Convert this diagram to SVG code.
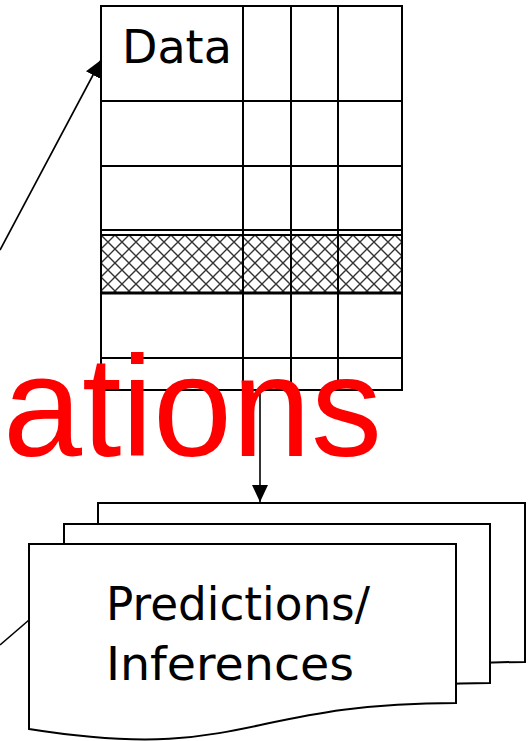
<svg xmlns="http://www.w3.org/2000/svg" width="529" height="741" viewBox="0 0 529 741">
  <style>
    .grid { stroke: #000; stroke-width: 2; fill: none; }
    .doc { fill: #fff; stroke: #000; stroke-width: 2; stroke-linejoin: miter; }
    .label { font-family: "Comic Sans MS", "DejaVu Sans", sans-serif; font-size: 46px; fill: #000; }
    .link { stroke: #000; stroke-width: 1.6; fill: none; }
    .big { font-family: "Liberation Sans", Arial, sans-serif; font-size: 142px; fill: #ff0000; }
  </style>
  <defs>
    <pattern id="crosshatch" x="101" y="235" width="14" height="14" patternUnits="userSpaceOnUse">
      <path d="M0,0 L14,14 M14,0 L0,14" stroke="#333" stroke-width="1.4" fill="none"/>
    </pattern>
    <marker id="arrow" markerUnits="userSpaceOnUse" markerWidth="18" markerHeight="16" refX="17" refY="8" orient="auto">
      <path d="M0,0 L17,8 L0,16 Z" fill="#000"/>
    </marker>
  </defs>

  <!-- data table -->
  <g id="data-table">
    <rect x="101" y="6" width="301" height="384" fill="#fff"/>
    <rect x="101" y="235" width="301" height="58" fill="url(#crosshatch)"/>
    <rect class="grid" x="101" y="6" width="301" height="384"/>
    <path class="grid" d="M101,101 H402 M101,166 H402 M101,230 H402 M101,235 H402 M101,358 H402 M243,6 V390 M291,6 V390 M338,6 V390"/>
    <path d="M101,293 H402" stroke="#000" stroke-width="3"/>
    <text class="label" x="122" y="63">Data</text>
  </g>

  <!-- stacked result documents -->
  <g id="predictions">
    <path class="doc" d="M98,503 H525 V662 C311.5,662 311.5,722 98,688 Z"/>
    <path class="doc" d="M64,524 H490 V683 C277,683 277,743 64,709 Z"/>
    <path class="doc" d="M29,544 H456 V703 C242.5,703 242.5,763 29,729 Z"/>
    <text class="label" x="106" y="620" textLength="264" lengthAdjust="spacingAndGlyphs">Predictions/</text>
    <text class="label" x="106" y="680" textLength="248" lengthAdjust="spacingAndGlyphs">Inferences</text>
  </g>

  <!-- connectors -->
  <g id="connectors">
    <line class="link" x1="0" y1="250" x2="101" y2="60" marker-end="url(#arrow)"/>
    <line class="link" x1="260" y1="390" x2="260" y2="502" marker-end="url(#arrow)"/>
    <line class="link" x1="0" y1="645" x2="29" y2="620"/>
  </g>

  <!-- overlay caption -->
  <g id="caption">
    <text class="big" x="3" y="456">ations</text>
  </g>
</svg>
